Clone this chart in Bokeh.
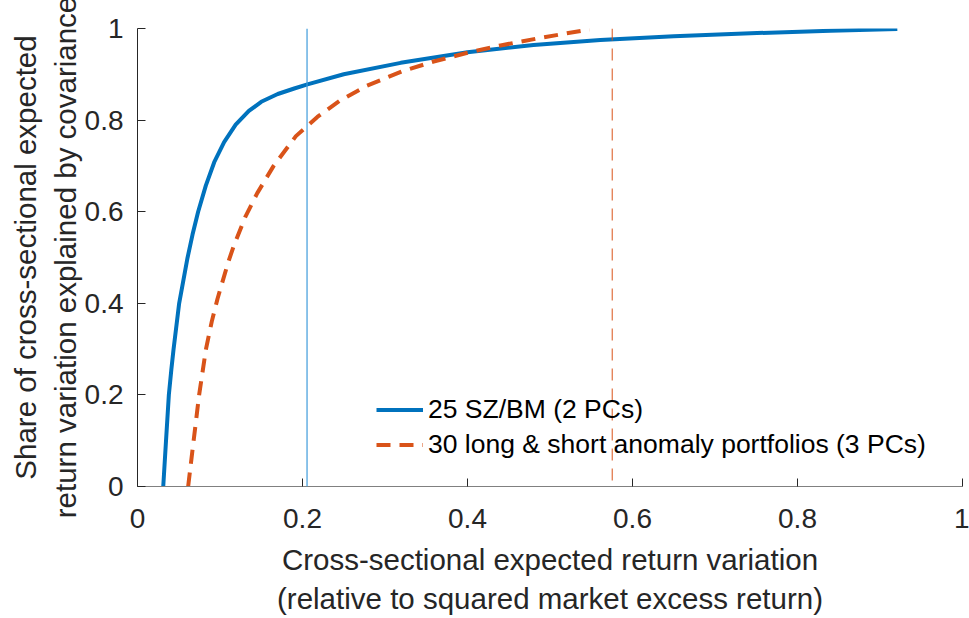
from bokeh.plotting import figure
from bokeh.models import Range1d, FixedTicker, Span
from bokeh.embed import file_html
from bokeh.resources import INLINE

# ---- data ----
sz_bm_x = [0.0312, 0.0344, 0.038, 0.041, 0.0436, 0.0505, 0.0606, 0.0667, 0.0735, 0.0828,
           0.093, 0.105, 0.119, 0.135, 0.150, 0.170, 0.190, 0.206, 0.25, 0.319, 0.40,
           0.48, 0.561, 0.65, 0.751, 0.84, 0.921]
sz_bm_y = [0.0, 0.095, 0.20, 0.255, 0.298, 0.40, 0.499, 0.55, 0.60, 0.657,
           0.708, 0.752, 0.790, 0.820, 0.840, 0.857, 0.869, 0.878, 0.900, 0.925, 0.948,
           0.964, 0.975, 0.983, 0.990, 0.995, 0.999]

anom_x = [0.0614, 0.0667, 0.0747, 0.083, 0.090, 0.097, 0.110, 0.117, 0.131, 0.145,
          0.165, 0.192, 0.218, 0.245, 0.278, 0.32, 0.359, 0.40, 0.44, 0.49, 0.548]
anom_y = [0.0, 0.08, 0.20, 0.30, 0.36, 0.41, 0.49, 0.527, 0.59, 0.64,
          0.70, 0.765, 0.807, 0.842, 0.875, 0.906, 0.928, 0.947, 0.963, 0.980, 0.998]

sz_bm_vline = 0.2055
anom_vline = 0.5754

tick_values = [0, 0.2, 0.4, 0.6, 0.8, 1]
tick_labels = ["0", "0.2", "0.4", "0.6", "0.8", "1"]

series_labels = ["25 SZ/BM (2 PCs)", "30 long & short anomaly portfolios (3 PCs)"]
x_label = "Cross-sectional expected return variation\n(relative to squared market excess return)"
y_label = "Share of cross-sectional expected\nreturn variation explained by covariance"

BLUE = "#0072BD"
ORANGE = "#D95319"
TXT = "#262626"
FONT = "Liberation Sans"

p = figure(width=969, height=618, output_backend="svg", toolbar_location=None,
           x_range=Range1d(0, 1), y_range=Range1d(0, 1),
           min_border_left=137, min_border_right=7, min_border_top=28, min_border_bottom=131)
p.outline_line_color = None
p.xgrid.visible = False
p.ygrid.visible = False
p.background_fill_color = "white"
p.border_fill_color = "white"

# reference lines
p.add_layout(Span(location=sz_bm_vline, dimension="height", line_color="#3E9BDB", line_width=1.2))
p.add_layout(Span(location=anom_vline, dimension="height", line_color=ORANGE, line_width=1,
                  line_dash="12 8"))

p.line(sz_bm_x, sz_bm_y, line_color=BLUE, line_width=4, legend_label=series_labels[0])
p.line(anom_x, anom_y, line_color=ORANGE, line_width=4, line_dash="14 9",
       legend_label=series_labels[1])

overrides = {v: l for v, l in zip(tick_values, tick_labels)}
for ax in (p.xaxis[0], p.yaxis[0]):
    ax.ticker = FixedTicker(ticks=tick_values)
    ax.major_label_overrides = overrides
    ax.minor_tick_line_color = None
    ax.major_tick_in = 8
    ax.major_tick_out = 0
    ax.major_tick_line_color = TXT
    ax.major_label_text_font = FONT
    ax.major_label_text_font_size = "28px"
    ax.major_label_text_color = TXT
    ax.axis_label_text_font = FONT
    ax.axis_label_text_font_size = "29.5px"
    ax.axis_label_text_font_style = "normal"
    ax.axis_label_text_color = TXT

p.xaxis[0].axis_line_color = "#808080"
p.yaxis[0].axis_line_color = TXT
p.xaxis[0].axis_label = x_label
p.yaxis[0].axis_label = y_label
p.xaxis[0].major_label_standoff = 22
p.yaxis[0].major_label_standoff = 14
p.xaxis[0].axis_label_standoff = 12
p.yaxis[0].axis_label_standoff = 0

lg = p.legend[0]
lg.location = (239, 24)
lg.border_line_color = None
lg.background_fill_alpha = 0
lg.padding = 0
lg.margin = 0
lg.spacing = 0
lg.glyph_width = 47
lg.glyph_height = 35
lg.label_height = 35
lg.label_standoff = 5
lg.label_text_font = FONT
lg.label_text_font_size = "26.5px"
lg.label_text_color = "black"

open("out.html", "w").write(file_html(p, INLINE))
